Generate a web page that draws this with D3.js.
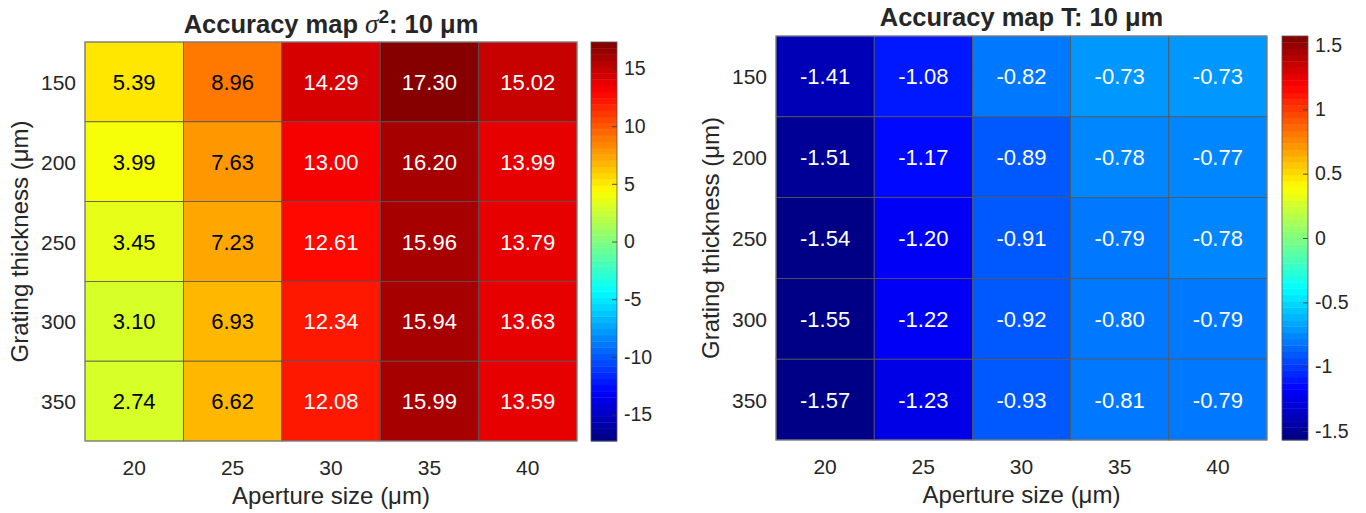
<!DOCTYPE html>
<html>
<head>
<meta charset="utf-8">
<script src="https://cdn.jsdelivr.net/npm/d3@7"></script>
<style>
  body { margin: 0; background: #fff; }
  svg text { font-family: "Liberation Sans", Arial, Helvetica, sans-serif; fill: #262626; }
</style>
</head>
<body>
<svg id="chart" width="1366" height="513"></svg>
<script>
// data
var apertures  = ["20", "25", "30", "35", "40"];
var thickness  = ["150", "200", "250", "300", "350"];

var sigmaRows = [
  [5.39, 8.96, 14.29, 17.30, 15.02],
  [3.99, 7.63, 13.00, 16.20, 13.99],
  [3.45, 7.23, 12.61, 15.96, 13.79],
  [3.10, 6.93, 12.34, 15.94, 13.63],
  [2.74, 6.62, 12.08, 15.99, 13.59]
];
var tRows = [
  [-1.41, -1.08, -0.82, -0.73, -0.73],
  [-1.51, -1.17, -0.89, -0.78, -0.77],
  [-1.54, -1.20, -0.91, -0.79, -0.78],
  [-1.55, -1.22, -0.92, -0.80, -0.79],
  [-1.57, -1.23, -0.93, -0.81, -0.79]
];
var sigmaTicks = [-15, -10, -5, 0, 5, 10, 15];
var tTicks     = [-1.5, -1, -0.5, 0, 0.5, 1, 1.5];

var svg = d3.select("#chart");

// MATLAB style jet, 64 levels
function jet(t) {
  var n = 64;
  var k = Math.min(n - 1, Math.max(0, Math.floor(t * n)));
  var x = (k + 0.5) / n;
  function c(v) { return Math.max(0, Math.min(1, v)); }
  var r = c(1.5 - Math.abs(4 * x - 3)),
      g = c(1.5 - Math.abs(4 * x - 2)),
      b = c(1.5 - Math.abs(4 * x - 1));
  return [Math.round(r * 255), Math.round(g * 255), Math.round(b * 255)];
}

function drawMap(opt) {
  var g = svg.append("g");
  var rows = opt.rows;
  var lim = d3.max(rows, function(r) { return d3.max(r, function(v) { return Math.abs(v); }); });

  var x = d3.scaleBand().domain(apertures).range([opt.x0, opt.x1]);
  var y = d3.scaleBand().domain(thickness).range([opt.y0, opt.y1]);
  var cnorm = d3.scaleLinear().domain([-lim, lim]).range([0, 1]).clamp(true);

  var cells = [];
  rows.forEach(function(r, i) {
    r.forEach(function(v, j) { cells.push({ row: thickness[i], col: apertures[j], v: v }); });
  });

  g.selectAll("rect.cell").data(cells).enter().append("rect")
    .attr("class", "cell")
    .attr("x", function(d) { return x(d.col); })
    .attr("y", function(d) { return y(d.row); })
    .attr("width", x.bandwidth())
    .attr("height", y.bandwidth())
    .attr("fill", function(d) { var c = jet(cnorm(d.v)); return "rgb(" + c + ")"; })
    .attr("stroke", "#555")
    .attr("stroke-width", 0.8);

  g.selectAll("text.val").data(cells).enter().append("text")
    .attr("class", "val")
    .attr("x", function(d) { return x(d.col) + x.bandwidth() / 2; })
    .attr("y", function(d) { return y(d.row) + y.bandwidth() / 2 + 8; })
    .attr("text-anchor", "middle")
    .style("font-size", "22px")
    .style("fill", function(d) {
      var c = jet(cnorm(d.v));
      var lum = 0.299 * c[0] + 0.587 * c[1] + 0.114 * c[2];
      return lum < 128 ? "#fff" : "#000";
    })
    .text(function(d) { return d.v.toFixed(2); });

  g.append("rect")
    .attr("x", opt.x0).attr("y", opt.y0)
    .attr("width", opt.x1 - opt.x0).attr("height", opt.y1 - opt.y0)
    .attr("fill", "none").attr("stroke", "#888").attr("stroke-width", 1);

  // tick labels
  g.selectAll("text.xt").data(apertures).enter().append("text")
    .attr("x", function(d) { return x(d) + x.bandwidth() / 2; })
    .attr("y", opt.y1 + 34)
    .attr("text-anchor", "middle")
    .style("font-size", "21px")
    .text(function(d) { return d; });

  g.selectAll("text.yt").data(thickness).enter().append("text")
    .attr("x", opt.x0 - 9)
    .attr("y", function(d) { return y(d) + y.bandwidth() / 2 + 8; })
    .attr("text-anchor", "end")
    .style("font-size", "21px")
    .text(function(d) { return d; });

  g.append("text")
    .attr("x", (opt.x0 + opt.x1) / 2)
    .attr("y", opt.y1 + 63)
    .attr("text-anchor", "middle")
    .style("font-size", "24px")
    .text("Aperture size (\u03bcm)");

  g.append("text")
    .attr("transform", "translate(" + (opt.x0 - 57) + "," + ((opt.y0 + opt.y1) / 2) + ") rotate(-90)")
    .attr("text-anchor", "middle")
    .style("font-size", "24px")
    .text("Grating thickness (\u03bcm)");

  // title
  var title = g.append("text")
    .attr("x", (opt.x0 + opt.x1) / 2)
    .attr("y", opt.titleY)
    .attr("text-anchor", "middle")
    .style("font-size", "25.5px")
    .style("font-weight", "bold");
  opt.title(title);

  // colorbar
  var cb = d3.scaleLinear().domain([-lim, lim]).range([opt.y1, opt.y0]);
  var levels = d3.range(64);
  var step = (opt.y1 - opt.y0) / 64;
  g.selectAll("rect.cb").data(levels).enter().append("rect")
    .attr("x", opt.cbx)
    .attr("y", function(k) { return cb(-lim + (k + 1) * 2 * lim / 64); })
    .attr("width", opt.cbw)
    .attr("height", step + 0.4)
    .attr("fill", function(k) { return "rgb(" + jet((k + 0.5) / 64) + ")"; });

  var ax = d3.axisRight(cb).tickValues(opt.ticks).tickSize(0).tickPadding(7)
    .tickFormat(function(d) { return String(d); });
  var axg = g.append("g").attr("transform", "translate(" + (opt.cbx + opt.cbw) + ",0)").call(ax);
  axg.select(".domain").remove();
  axg.selectAll("text").style("font-size", "19.5px").style("fill", "#262626")
    .attr("font-family", null);
  axg.selectAll(".tick").append("line")
    .attr("x1", -5).attr("x2", 0).attr("stroke", "#333").attr("stroke-width", 0.8);

  g.append("rect")
    .attr("x", opt.cbx).attr("y", opt.y0)
    .attr("width", opt.cbw).attr("height", opt.y1 - opt.y0)
    .attr("fill", "none").attr("stroke", "#555").attr("stroke-width", 0.8);
}

drawMap({
  rows: sigmaRows, ticks: sigmaTicks,
  x0: 85, x1: 577, y0: 42, y1: 441,
  cbx: 591, cbw: 26, titleY: 33,
  title: function(t) {
    t.append("tspan").text("Accuracy map ");
    t.append("tspan").style("font-family", "'Liberation Serif', 'Times New Roman', serif")
      .style("font-style", "italic").style("font-weight", "normal").style("font-size", "27px").text("\u03c3");
    t.append("tspan").attr("dy", -10).style("font-size", "19px").text("2");
    t.append("tspan").attr("dy", 10).text(": 10 \u03bcm");
  }
});

drawMap({
  rows: tRows, ticks: tTicks,
  x0: 776, x1: 1267, y0: 36, y1: 440,
  cbx: 1282, cbw: 26, titleY: 26,
  title: function(t) { t.text("Accuracy map T: 10 \u03bcm"); }
});
</script>
</body>
</html>
